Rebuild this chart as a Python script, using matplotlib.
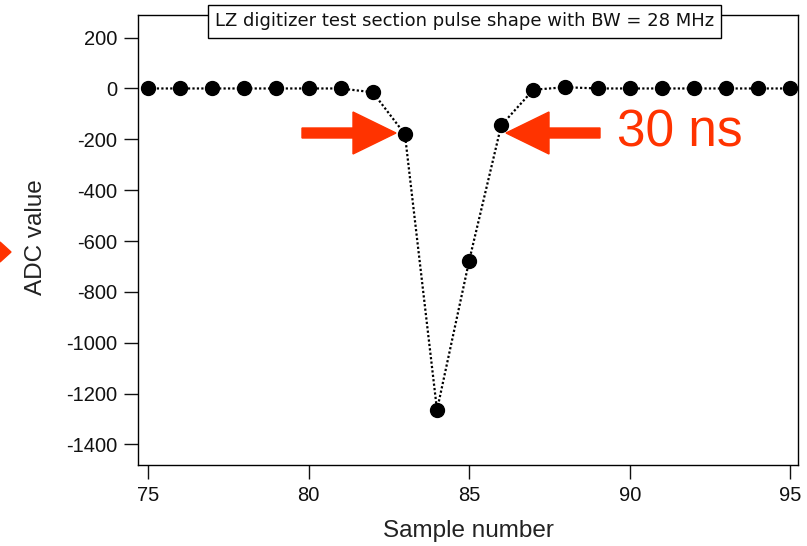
import numpy as np
import matplotlib.pyplot as plt
from matplotlib.patches import FancyArrow, Polygon

plt.rcParams['font.family'] = ['Liberation Sans', 'DejaVu Sans']
plt.rcParams['axes.unicode_minus'] = False

# pulse samples
sample = np.arange(75, 96)
adc = [0, 0, 0, 0, 0, 0, 0, -15, -180, -1265, -678, -145, -5, 5,
       0, 0, 0, 0, 0, 0, 0]
xticks = [75, 80, 85, 90, 95]
yticks = [200, 0, -200, -400, -600, -800, -1000, -1200, -1400]
red = '#ff3300'

fig = plt.figure(figsize=(8.07, 5.46), dpi=100)
ax = fig.add_axes([138 / 807, 1 - 465 / 546, 660 / 807, 450 / 546])

ax.plot(sample, adc, color='black', linestyle=(0, (1, 1)), linewidth=1.6,
        marker='o', markersize=10, markerfacecolor='black', markeredgecolor='black')

ax.set_xlim(74.69, 95.24)
ax.set_ylim(-1481, 289)
ax.set_xticks(xticks)
ax.set_yticks(yticks)
ax.tick_params(direction='out', length=10, width=1, labelsize=14.5, colors='#111111', pad=5)
for s in ax.spines.values():
    s.set_linewidth(1)
ax.set_xlabel('Sample number', fontsize=17.5, color='#222222')
ax.set_ylabel('ADC value', fontsize=17.5, color='#222222')
ax.xaxis.set_label_coords(0.5, -(520 - 465) / 450)
ax.yaxis.set_label_coords(-(138 - 47) / 660, 1 - (237 - 15) / 450)

ax.text(0.495, 0.986, 'LZ digitizer test section pulse shape with BW = 28 MHz',
        transform=ax.transAxes, ha='center', va='center', fontsize=13, color='#111111',
        family='DejaVu Sans',
        bbox=dict(boxstyle='square,pad=0.4', facecolor='white', edgecolor='black', linewidth=1))


# red arrows around the 30 ns width
def fig_xy(px, py):
    return px / 807, 1 - py / 546


x0, y0 = fig_xy(302, 133)
x1, _ = fig_xy(396, 133)
fig.patches.append(FancyArrow(x0, y0, x1 - x0, 0, width=10 / 546, head_width=42 / 546,
                              head_length=43 / 807, length_includes_head=True,
                              color=red, transform=fig.transFigure))
x0, _ = fig_xy(600, 133)
x1, _ = fig_xy(506, 133)
fig.patches.append(FancyArrow(x0, y0, x1 - x0, 0, width=10 / 546, head_width=42 / 546,
                              head_length=43 / 807, length_includes_head=True,
                              color=red, transform=fig.transFigure))
tx, ty = fig_xy(617, 133)
fig.text(tx, ty, '30 ns', fontsize=37, color=red, ha='left', va='center')

# cut-off arrow head at the left edge
fig.patches.append(Polygon([fig_xy(0, 242), fig_xy(11, 252), fig_xy(0, 262)],
                           closed=True, color=red, transform=fig.transFigure))

fig.savefig('out.png', dpi=100)
